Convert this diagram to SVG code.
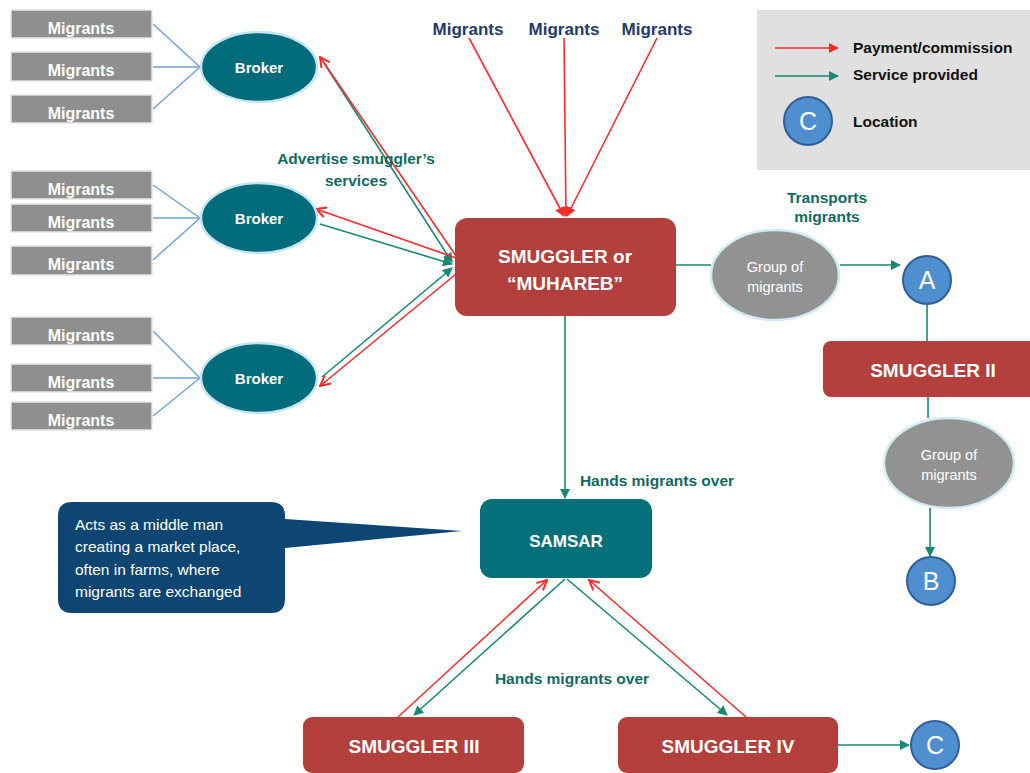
<svg xmlns="http://www.w3.org/2000/svg" width="1030" height="773" viewBox="0 0 1030 773">
<defs>
<style>
text{font-family:"Liberation Sans",Arial,sans-serif}
.mig rect{fill:#8f8f8f;stroke:#e6e6e6;stroke-width:1.5}
.mig text{fill:#fff;font-size:16px;font-weight:bold;text-anchor:middle}
.broker ellipse{fill:#006b7a;stroke:#c4e6f0;stroke-width:2.5}
.broker text{fill:#fff;font-size:15px;font-weight:bold;text-anchor:middle}
.smug rect{fill:#b3403c}
.smug text{fill:#fff;font-size:19px;font-weight:bold;text-anchor:middle}
.grp ellipse{fill:#929292;stroke:#d2ebf2;stroke-width:2.5}
.grp text{fill:#fff;font-size:14.5px;text-anchor:middle}
.loc circle{fill:#4f8fd0;stroke:#2f5f99;stroke-width:2}
.loc text{fill:#fff;font-size:25px;text-anchor:middle}
.lbl{fill:#0f6b62;font-size:15.5px;font-weight:bold;text-anchor:middle}
.blue{stroke:#6fa3da;stroke-width:1.5;fill:none}
.red{stroke:#ff2a2a;stroke-width:1.6;fill:none}
.grn{stroke:#168a72;stroke-width:1.6;fill:none}
.topmig{fill:#1f3b6b;font-size:17px;font-weight:bold;text-anchor:middle}
</style>
<marker id="rOpen" viewBox="0 0 12 12" refX="11" refY="6" markerWidth="12" markerHeight="12" markerUnits="userSpaceOnUse" orient="auto"><path d="M1,1 L11,6 L1,11" fill="none" stroke="#ff2a2a" stroke-width="2"/></marker>
<marker id="rFill" viewBox="0 0 10 10" refX="9" refY="5" markerWidth="10" markerHeight="10" markerUnits="userSpaceOnUse" orient="auto"><path d="M0,0 L10,5 L0,10 Z" fill="#ff2a2a"/></marker>
<marker id="gFill" viewBox="0 0 10 10" refX="9" refY="5" markerWidth="10" markerHeight="10" markerUnits="userSpaceOnUse" orient="auto"><path d="M0,0 L10,5 L0,10 Z" fill="#168a72"/></marker>
</defs>
<rect width="1030" height="773" fill="#fff"/>

<g id="legend">
<rect x="757" y="10" width="273" height="160" fill="#e0e0e0"/>
<line x1="775" y1="48" x2="838" y2="48" class="red" marker-end="url(#rFill)"/>
<line x1="775" y1="76" x2="838" y2="76" class="grn" marker-end="url(#gFill)"/>
<g class="loc"><circle cx="808" cy="121" r="24"/><text x="808" y="130">C</text></g>
<text x="853" y="53" style="fill:#111;font-size:15.5px;font-weight:bold">Payment/commission</text>
<text x="853" y="80" style="fill:#111;font-size:15.5px;font-weight:bold">Service provided</text>
<text x="853" y="127" style="fill:#111;font-size:15.5px;font-weight:bold">Location</text>
</g>

<g id="connectors">
<line x1="153" y1="24" x2="200" y2="67" class="blue"/>
<line x1="153" y1="67" x2="200" y2="67" class="blue"/>
<line x1="153" y1="109" x2="200" y2="67" class="blue"/>
<line x1="153" y1="185" x2="200" y2="218" class="blue"/>
<line x1="153" y1="218" x2="200" y2="218" class="blue"/>
<line x1="153" y1="260" x2="200" y2="218" class="blue"/>
<line x1="153" y1="331" x2="200" y2="378" class="blue"/>
<line x1="153" y1="378" x2="200" y2="378" class="blue"/>
<line x1="153" y1="416" x2="200" y2="378" class="blue"/>

<line x1="469" y1="38" x2="564" y2="216" class="red" marker-end="url(#rFill)"/>
<line x1="564" y1="38" x2="566" y2="216" class="red" marker-end="url(#rFill)"/>
<line x1="657" y1="38" x2="567" y2="216" class="red" marker-end="url(#rFill)"/>

<line x1="324" y1="63" x2="452" y2="262" class="grn" marker-end="url(#gFill)"/>
<line x1="456" y1="256" x2="320" y2="57" class="red" marker-end="url(#rOpen)"/>
<line x1="320" y1="224" x2="452" y2="264" class="grn" marker-end="url(#gFill)"/>
<line x1="456" y1="258" x2="316" y2="209" class="red" marker-end="url(#rOpen)"/>
<line x1="322" y1="377" x2="452" y2="268" class="grn" marker-end="url(#gFill)"/>
<line x1="456" y1="274" x2="320" y2="386" class="red" marker-end="url(#rOpen)"/>

<line x1="676" y1="265" x2="711" y2="265" class="grn"/>
<line x1="840" y1="265" x2="900" y2="265" class="grn" marker-end="url(#gFill)"/>
<line x1="927" y1="304" x2="927" y2="341" class="grn"/>
<line x1="928" y1="397" x2="928" y2="418" class="grn"/>
<line x1="930" y1="508" x2="930" y2="556" class="grn" marker-end="url(#gFill)"/>

<line x1="565" y1="316" x2="565" y2="498" class="grn" marker-end="url(#gFill)"/>

<line x1="565" y1="579" x2="414" y2="715" class="grn" marker-end="url(#gFill)"/>
<line x1="398" y1="717" x2="547" y2="580" class="red" marker-end="url(#rOpen)"/>
<line x1="567" y1="579" x2="727" y2="715" class="grn" marker-end="url(#gFill)"/>
<line x1="746" y1="717" x2="589" y2="580" class="red" marker-end="url(#rOpen)"/>

<line x1="838" y1="745" x2="909" y2="745" class="grn" marker-end="url(#gFill)"/>
</g>

<g id="migrants-left" class="mig">
<rect x="11" y="10" width="141" height="28"/><text x="81" y="34">Migrants</text>
<rect x="11" y="52" width="141" height="29"/><text x="81" y="76">Migrants</text>
<rect x="11" y="95" width="141" height="28"/><text x="81" y="119">Migrants</text>
<rect x="11" y="171" width="141" height="28"/><text x="81" y="195">Migrants</text>
<rect x="11" y="204" width="141" height="28"/><text x="81" y="228">Migrants</text>
<rect x="11" y="246" width="141" height="29"/><text x="81" y="270">Migrants</text>
<rect x="11" y="317" width="141" height="28"/><text x="81" y="341">Migrants</text>
<rect x="11" y="364" width="141" height="28"/><text x="81" y="388">Migrants</text>
<rect x="11" y="402" width="141" height="28"/><text x="81" y="426">Migrants</text>
</g>

<g id="migrants-top">
<text x="468" y="35" class="topmig">Migrants</text>
<text x="564" y="35" class="topmig">Migrants</text>
<text x="657" y="35" class="topmig">Migrants</text>
</g>

<g id="broker1" class="broker"><ellipse cx="259" cy="67" rx="58" ry="35"/><text x="259" y="73">Broker</text></g>
<g id="broker2" class="broker"><ellipse cx="259" cy="218" rx="58" ry="35"/><text x="259" y="224">Broker</text></g>
<g id="broker3" class="broker"><ellipse cx="259" cy="378" rx="58" ry="35"/><text x="259" y="384">Broker</text></g>

<g id="labels">
<text x="356" y="164" class="lbl">Advertise smuggler’s</text>
<text x="356" y="186" class="lbl">services</text>
<text x="827" y="203" class="lbl">Transports</text>
<text x="827" y="222" class="lbl">migrants</text>
<text x="657" y="486" class="lbl">Hands migrants over</text>
<text x="572" y="684" class="lbl">Hands migrants over</text>
</g>

<g id="smuggler" class="smug">
<rect x="455" y="218" width="221" height="98" rx="12"/>
<text x="565" y="263">SMUGGLER or</text>
<text x="565" y="290">“MUHAREB”</text>
</g>

<g id="group1" class="grp"><ellipse cx="775" cy="275" rx="64" ry="45"/><text x="775" y="272">Group of</text><text x="775" y="292">migrants</text></g>
<g id="locA" class="loc"><circle cx="927" cy="280" r="24"/><text x="927" y="289">A</text></g>

<g id="smuggler2" class="smug">
<rect x="823" y="341" width="220" height="56" rx="8"/>
<text x="933" y="377">SMUGGLER II</text>
</g>

<g id="group2" class="grp"><ellipse cx="949" cy="463" rx="65" ry="45"/><text x="949" y="460">Group of</text><text x="949" y="480">migrants</text></g>
<g id="locB" class="loc"><circle cx="931" cy="581" r="24"/><text x="931" y="590">B</text></g>

<g id="callout">
<path d="M72,502 H271 Q285,502 285,516 V519 L462,531 L285,548 V599 Q285,613 271,613 H72 Q58,613 58,599 V516 Q58,502 72,502 Z" fill="#0d4573"/>
<text x="75" y="530" fill="#fff" font-size="15.5">Acts as a middle man</text>
<text x="75" y="552" fill="#fff" font-size="15.5">creating a market place,</text>
<text x="75" y="575" fill="#fff" font-size="15.5">often in farms, where</text>
<text x="75" y="597" fill="#fff" font-size="15.5">migrants are exchanged</text>
</g>

<g id="samsar">
<rect x="480" y="499" width="172" height="79" rx="12" fill="#03707a"/>
<text x="566" y="547" fill="#fff" font-size="17" font-weight="bold" text-anchor="middle">SAMSAR</text>
</g>

<g id="smuggler3" class="smug">
<rect x="303" y="717" width="221" height="56" rx="9"/>
<text x="414" y="753">SMUGGLER III</text>
</g>
<g id="smuggler4" class="smug">
<rect x="618" y="717" width="220" height="56" rx="9"/>
<text x="728" y="753">SMUGGLER IV</text>
</g>
<g id="locC" class="loc"><circle cx="935" cy="745" r="24"/><text x="935" y="754">C</text></g>
</svg>
